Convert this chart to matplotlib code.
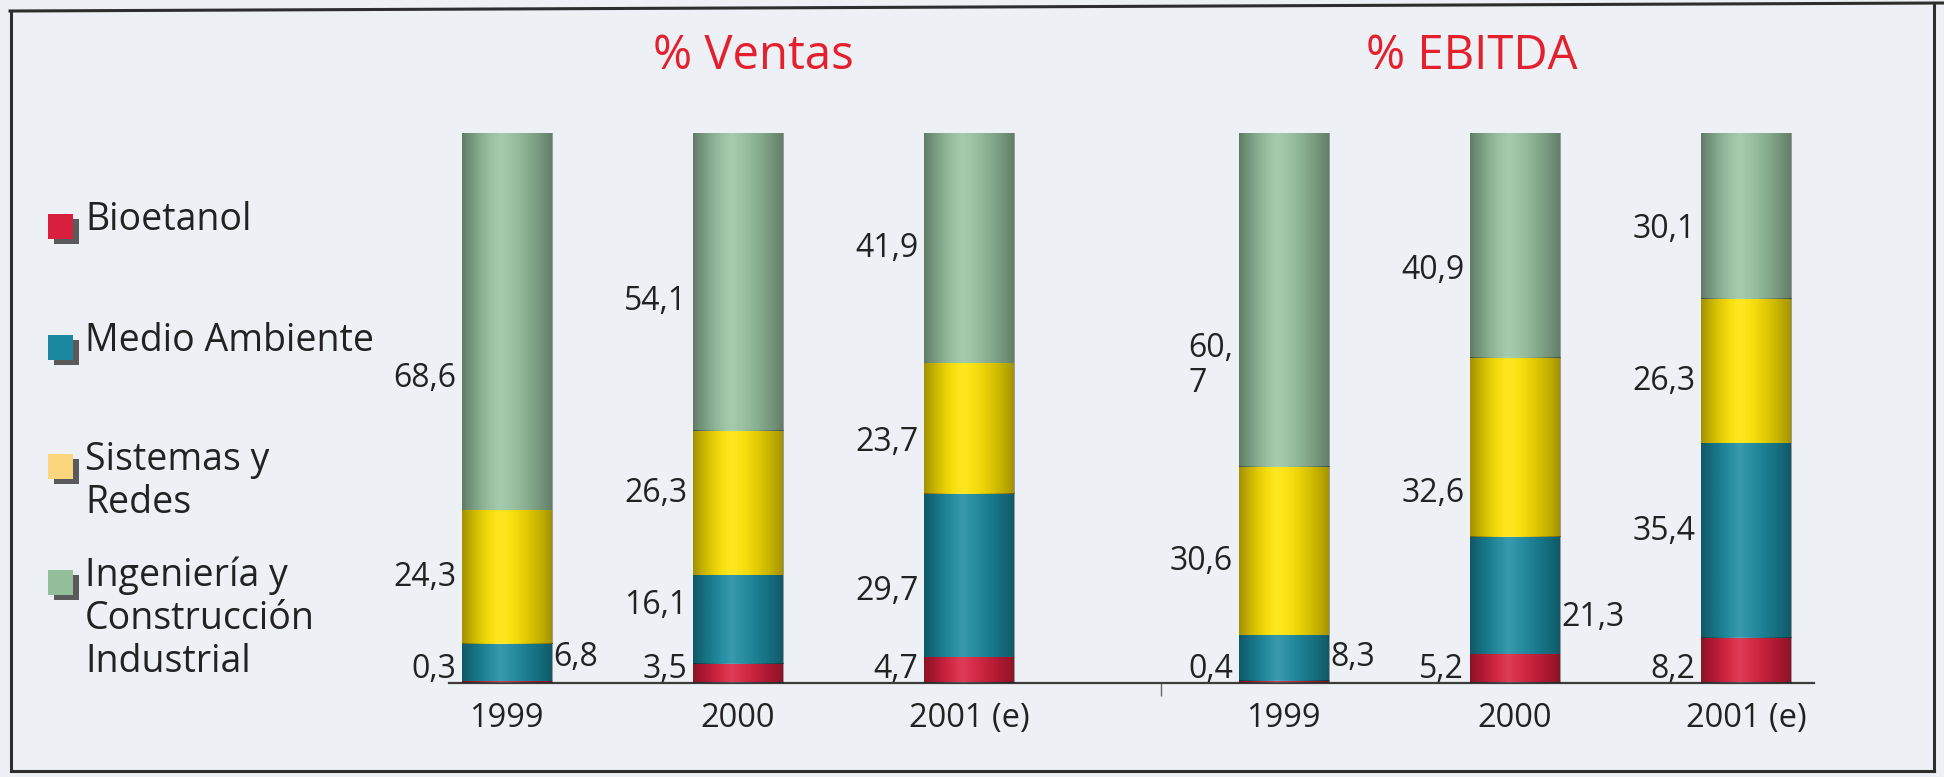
import numpy as np
import matplotlib.pyplot as plt
from matplotlib.patches import Rectangle
from matplotlib.lines import Line2D

plt.rcParams['font.family'] = ['Open Sans', 'DejaVu Sans']

# datos (% sobre el total)
groups = ['% Ventas', '% EBITDA']
years = ['1999', '2000', '2001 (e)']
series = ['Bioetanol', 'Medio Ambiente', 'Sistemas y\nRedes',
          'Ingeniería y\nConstrucción\nIndustrial']

bioetanol = [[0.3, 3.5, 4.7], [0.4, 5.2, 8.2]]
medio_ambiente = [[6.8, 16.1, 29.7], [8.3, 21.3, 35.4]]
sistemas_redes = [[24.3, 26.3, 23.7], [30.6, 32.6, 26.3]]
ingenieria = [[68.6, 54.1, 41.9], [60.7, 40.9, 30.1]]

bar_colors = ['#d81f3d', '#1a8a9f', '#fde300', '#97c2a0']
legend_colors = ['#d81f3d', '#1a88a0', '#fcd67c', '#93bf9c']

W, H = 1944, 777
fig = plt.figure(figsize=(W / 100, H / 100), dpi=100, facecolor='#edf0f4')

def fx(px):
    return px / W

def fy(py):
    return 1 - py / H

# ejes en pixeles
ax = fig.add_axes([fx(449), fy(683), (1814 - 449) / W, 550 / H])
ax.set_facecolor('none')

group_step = 3.36
width = 0.39

# sombreado tipo cilindro
t = np.linspace(0, 1, 80)
d = np.where(t < 0.42, (0.42 - t) / 0.42, (t - 0.42) / 0.58)
dark = np.zeros((1, 80, 4))
dark[..., 3] = 0.36 * d ** 1.7
light = np.ones((1, 80, 4))
light[..., 3] = 0.14 * (1 - d) ** 2.5

data = [bioetanol, medio_ambiente, sistemas_redes, ingenieria]

# ajustes de posicion de etiquetas (unidades de datos)
nudge = {(0, 0, 3): -10.4, (0, 1, 3): -3.6, (0, 1, 2): 1.7, (0, 1, 1): 2.6,
         (0, 2, 2): -2.6, (0, 2, 1): -3.0, (0, 0, 1): 1.0,
         (1, 0, 3): -12.0, (1, 0, 2): -1.9, (1, 1, 3): -4.5, (1, 1, 2): -8.3,
         (1, 1, 1): -3.9, (1, 2, 3): -2.5, (1, 2, 2): -1.9, (1, 2, 1): 1.6}
right_side = {(0, 0, 1), (1, 0, 1), (1, 1, 1)}
wrapped = {(1, 0, 3)}

for g in range(len(groups)):
    xs = np.arange(len(years)) + g * group_step
    bottom = np.zeros(len(years))
    for s in range(len(series)):
        vals = np.array(data[s][g])
        bars = ax.bar(xs, vals, width, bottom=bottom, color=bar_colors[s],
                      linewidth=0, zorder=2)
        for i, b in enumerate(bars):
            x0, y0 = b.get_x(), b.get_y()
            x1, y1 = x0 + b.get_width(), y0 + b.get_height()
            ax.imshow(dark, extent=(x0, x1, y0, y1), aspect='auto',
                      interpolation='bicubic', zorder=3)
            ax.imshow(light, extent=(x0, x1, y0, y1), aspect='auto',
                      interpolation='bicubic', zorder=3)

            key = (g, i, s)
            txt = f'{vals[i]:.1f}'.replace('.', ',')
            if key in wrapped:
                txt = txt.replace(',', ',\n')
            if s == 0:
                y = 2.4
            else:
                y = y0 + vals[i] / 2 + nudge.get(key, 0)
            if key in right_side:
                ax.annotate(txt, (x1, y), xytext=(1, 0), textcoords='offset points',
                            ha='left', va='center', fontsize=23, color='#222222')
            else:
                ax.annotate(txt, (x0, y), xytext=(-4, 0), textcoords='offset points',
                            ha='right', va='center', fontsize=23, color='#222222',
                            linespacing=1.1, multialignment='left')
        bottom = bottom + vals

for sp in ['top', 'left', 'right']:
    ax.spines[sp].set_visible(False)
ax.spines['bottom'].set_color('#3c3c3c')
ax.spines['bottom'].set_linewidth(1.6)
ax.set_yticks([])
ticks = [i + g * group_step for g in range(len(groups)) for i in range(len(years))]
ax.set_xticks(ticks)
ax.set_xticklabels(years * len(groups), fontsize=23.5, color='#222222')
ax.tick_params(axis='x', length=0, pad=14)
ax.set_xticks([2.83], minor=True)
ax.tick_params(axis='x', which='minor', length=9, width=1, color='#666666')
ax.set_xlim(-0.25, 5.654)
ax.set_ylim(0, 100)

# titulos
fig.text(fx(753), fy(56), groups[0], color='#e5202e', fontsize=34,
         ha='center', va='center')
fig.text(fx(1472), fy(56), groups[1], color='#e5202e', fontsize=34,
         ha='center', va='center')

# leyenda
sq_y = [226, 347, 466, 582]
for s, name in enumerate(series):
    cy = sq_y[s]
    fig.add_artist(Rectangle((fx(54), fy(cy + 18)), 25 / W, 25 / H,
                             transform=fig.transFigure, color='#5a5a5a', lw=0))
    fig.add_artist(Rectangle((fx(48), fy(cy + 13)), 25 / W, 25 / H,
                             transform=fig.transFigure, color=legend_colors[s], lw=0))
    for k, line in enumerate(name.split('\n')):
        fig.text(fx(85), fy(cy - 6 + k * 43), line, fontsize=27, color='#222222',
                 ha='left', va='center')

# marco
frame = dict(color='#2e2e2e', lw=2.2, transform=fig.transFigure)
fig.add_artist(Line2D([fx(10), fx(1944)], [fy(11), fy(3)], **frame))
fig.add_artist(Line2D([fx(11), fx(11)], [fy(11), fy(771)], **frame))
fig.add_artist(Line2D([fx(11), fx(1934)], [fy(771), fy(771)], **frame))
fig.add_artist(Line2D([fx(1934), fx(1934)], [fy(4), fy(771)], **frame))

fig.savefig('out.png', dpi=100, facecolor=fig.get_facecolor())
